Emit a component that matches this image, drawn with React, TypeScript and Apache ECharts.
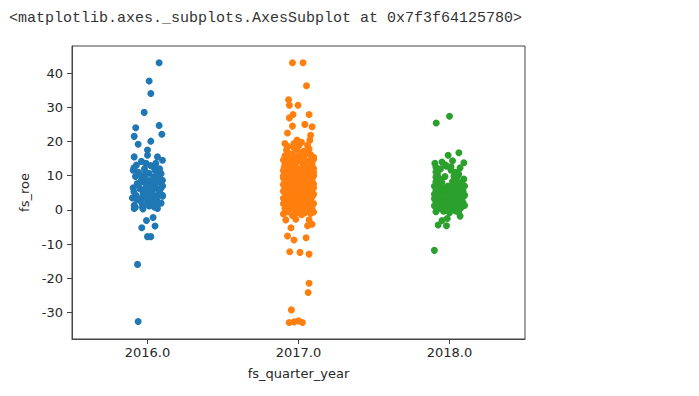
import React, { useEffect, useRef } from "react";
import * as echarts from "echarts";

const header = "<matplotlib.axes._subplots.AxesSubplot at 0x7f3f64125780>";
const categories = ["2016.0", "2017.0", "2018.0"];
const yTicks = [-30, -20, -10, 0, 10, 20, 30, 40];
const xLabel = "fs_quarter_year";
const yLabel = "fs_roe";
const colors = ["#1f77b4", "#ff7f0e", "#2ca02c"];

// [jitter within category, fs_roe]
const roe2016: [number, number][] = [
  [0.077, 43.0], [0.011, 37.7], [0.022, 34.0], [-0.022, 28.5], [0.077, 24.7], [0.095, 22.1],
  [-0.078, 24.0], [-0.088, 21.5], [-0.062, 19.2], [0.022, 20.1], [0.0, 17.5], [0.0, 16.0],
  [-0.088, 15.5], [-0.073, 13.1], [-0.095, 11.6], [0.066, 15.5], [0.099, 14.5], [0.055, 13.6],
  [-0.01, 13.6], [0.01, 10.7], [0.077, 11.2], [0.099, 8.7], [-0.095, 6.5], [-0.068, 7.7],
  [-0.033, 8.3], [0.033, 7.2], [0.088, 6.3], [-0.077, 4.3], [-0.044, 3.3], [0.011, 4.3],
  [0.066, 4.3], [0.099, 4.3], [-0.088, 1.4], [-0.088, 0.4], [-0.033, 0.9], [0.0, 2.9],
  [0.044, 0.9], [0.066, 0.4], [0.037, -2.2], [-0.007, -3.1], [-0.038, -5.2], [0.05, -4.7],
  [0.0, -7.8], [0.022, -7.8], [-0.066, -15.9], [-0.062, -32.6],
  [-0.09, 12.3], [-0.06, 11.0], [-0.02, 12.0], [0.04, 12.5], [0.07, 10.2], [0.09, 8.0],
  [-0.08, 9.8], [-0.05, 6.2], [-0.03, 5.4], [0.0, 6.8], [0.02, 5.9], [0.05, 7.5],
  [0.08, 5.2], [0.1, 7.0], [-0.07, 3.0], [-0.04, 2.2], [-0.01, 3.8], [0.03, 2.6],
  [0.06, 3.1], [0.09, 2.0], [-0.09, 5.3], [-0.02, 9.2], [0.01, 8.6], [0.04, 9.7],
  [0.06, 8.8], [-0.06, 7.2], [0.0, 4.8], [0.03, 4.0], [-0.01, 10.5], [0.05, 11.6],
  [0.02, 13.0], [-0.04, 14.2], [0.07, 6.0], [0.09, 10.6], [-0.08, 0.8], [0.01, 1.2],
  [0.06, 1.5], [-0.03, 0.3], [0.0, 2.0], [0.08, 12.0], [-0.05, 10.4], [0.03, 7.0],
  [0.1, 4.0], [-0.1, 3.5],
  [-0.02, 6.0], [0.02, 8.0], [0.05, 9.0], [-0.04, 8.8], [0.03, 5.2], [0.07, 8.2],
  [-0.01, 7.4], [0.04, 6.4], [0.08, 9.4], [-0.03, 4.4],
];

const roe2017: [number, number][] = [
  [-0.04, 43.0], [0.03, 43.0], [0.053, 36.3], [-0.066, 32.2], [-0.06, 30.6], [-0.003, 30.6],
  [0.07, 27.9], [-0.036, 27.9], [-0.06, 26.9], [0.042, 25.0], [0.09, 24.3], [-0.04, 24.5],
  [-0.073, 22.5], [-0.01, 20.4], [0.08, 21.8], [0.075, 20.4], [-0.09, 19.4], [-0.03, 19.4],
  [0.005, 18.9], [0.07, 17.8], [-0.08, 17.5], [0.03, 17.0], [0.1, 14.8], [-0.05, 15.9],
  [-0.07, 18.5], [0.02, 19.8], [0.06, 18.9], [-0.03, 18.2],
  [-0.084, -2.9], [-0.018, -2.7], [0.07, -2.9], [-0.05, -5.2], [0.06, -4.6], [0.09, -4.2],
  [-0.073, -7.6], [-0.03, -8.8], [0.05, -8.1], [-0.058, -12.2], [0.01, -12.4], [0.07, -12.9],
  [0.07, -21.4], [0.064, -24.1], [-0.047, -29.2], [-0.062, -32.9], [-0.029, -32.7],
  [0.0, -32.4], [0.026, -32.9],
  [-0.1, -1.2], [-0.07, -0.5], [-0.04, -1.6], [-0.01, -0.8], [0.02, -1.4], [0.05, -0.3],
  [0.08, -1.0], [0.1, -0.6], [-0.09, 0.4], [-0.06, 0.9], [-0.03, 0.2], [0.0, 0.7],
  [0.03, 0.1], [0.06, 0.8], [0.09, 0.3], [-0.08, -0.2], [0.04, -0.9], [-0.02, 1.1],
  [-0.1, 1.8], [-0.07, 2.4], [-0.05, 1.3], [-0.02, 2.9], [0.01, 1.6], [0.03, 2.2],
  [0.06, 1.4], [0.08, 2.7], [0.1, 1.9], [-0.09, 2.9], [-0.04, 2.0], [0.0, 2.5],
  [0.05, 2.9], [-0.06, 1.1], [0.02, 1.2], [0.09, 1.2], [-0.03, 2.6], [0.07, 2.1],
  [-0.1, 3.4], [-0.08, 4.1], [-0.05, 3.7], [-0.03, 4.6], [0.0, 3.2], [0.02, 4.0],
  [0.04, 3.5], [0.07, 4.4], [0.09, 3.8], [-0.07, 4.9], [-0.01, 4.3], [0.05, 4.8],
  [0.1, 4.6], [-0.09, 3.0], [0.03, 3.0], [0.08, 3.1], [-0.04, 3.3], [0.01, 4.9],
  [-0.06, 3.6], [0.06, 3.9],
  [-0.1, 5.5], [-0.08, 6.3], [-0.06, 5.2], [-0.03, 6.0], [-0.01, 5.7], [0.02, 6.6],
  [0.04, 5.3], [0.06, 6.2], [0.09, 5.8], [-0.09, 6.9], [-0.05, 6.8], [0.0, 6.4],
  [0.03, 5.1], [0.07, 6.9], [0.1, 6.5], [-0.02, 5.0], [0.05, 5.9], [-0.07, 5.6],
  [0.08, 5.2], [0.01, 5.5],
  [-0.1, 7.4], [-0.07, 8.1], [-0.05, 7.2], [-0.02, 8.6], [0.0, 7.7], [0.03, 8.3],
  [0.05, 7.1], [0.08, 8.0], [0.1, 7.6], [-0.09, 8.8], [-0.04, 7.9], [0.02, 7.3],
  [0.06, 8.8], [-0.06, 8.5], [0.09, 8.6], [-0.01, 8.0], [0.04, 9.0],
  [-0.1, 9.3], [-0.08, 10.2], [-0.05, 9.6], [-0.03, 10.5], [0.0, 9.2], [0.02, 10.0],
  [0.05, 9.8], [0.07, 10.7], [0.1, 9.9], [-0.06, 10.9], [0.01, 10.8], [0.08, 9.4],
  [-0.09, 10.6], [0.04, 10.4],
  [-0.1, 11.5], [-0.07, 12.3], [-0.04, 11.2], [-0.01, 12.0], [0.02, 11.6], [0.05, 12.4],
  [0.08, 11.3], [0.1, 12.1], [-0.08, 12.9], [-0.02, 12.8], [0.03, 12.9], [0.07, 12.7],
  [-0.05, 11.8], [0.0, 11.1],
  [-0.09, 13.4], [-0.06, 14.1], [-0.03, 13.6], [0.0, 14.4], [0.03, 13.2], [0.06, 14.0],
  [0.09, 13.5], [-0.1, 14.6], [0.02, 14.9], [0.05, 13.8], [-0.02, 15.0], [0.08, 14.7],
  [-0.09, 15.8], [-0.04, 16.3], [0.01, 15.9], [0.06, 16.5], [0.1, 15.4], [-0.07, 16.8],
  [0.04, 17.2], [-0.01, 17.6], [0.08, 16.2],
  [-0.085, 0.0], [-0.015, -0.2], [0.035, 0.5], [0.075, -0.3], [-0.055, 2.0], [0.015, 2.3],
  [0.045, 1.8], [-0.085, 3.9], [-0.025, 3.9], [0.035, 4.4], [0.065, 3.4], [-0.045, 5.5],
  [0.015, 6.0], [0.075, 5.6], [-0.085, 7.7], [-0.035, 6.6], [0.045, 6.6], [0.095, 7.0],
  [-0.075, 9.5], [-0.015, 9.8], [0.035, 9.5], [0.065, 8.4], [-0.055, 11.3], [0.015, 11.9],
  [0.065, 11.4], [-0.095, 12.4], [-0.035, 13.1], [0.045, 13.3], [0.085, 12.8], [-0.075, 15.2],
  [-0.005, 15.6], [0.035, 15.4], [0.075, 14.4], [-0.045, 14.7], [0.1, 10.9], [-0.1, 10.0],
];

const roe2018: [number, number][] = [
  [0.0, 27.4], [-0.088, 25.4], [0.062, 16.7], [-0.009, 16.0], [0.095, 13.8], [-0.097, 13.6],
  [-0.05, 14.0], [0.02, 14.4], [0.01, 11.6], [-0.09, 11.1], [0.06, 10.6], [0.095, 9.0],
  [-0.07, 9.2], [0.04, 8.7], [-0.015, -2.5], [-0.05, -3.1], [0.07, -1.8], [-0.075, -4.4],
  [-0.02, -4.6], [-0.1, -11.8],
  [-0.1, 6.9], [-0.07, 7.3], [-0.04, 6.5], [-0.01, 7.0], [0.02, 6.6], [0.05, 7.2],
  [0.08, 6.4], [0.1, 7.0], [-0.09, 5.6], [-0.06, 6.0], [-0.03, 5.2], [0.0, 5.8],
  [0.03, 5.4], [0.06, 6.1], [0.09, 5.5], [-0.1, 4.6], [-0.07, 4.2], [-0.05, 4.9],
  [-0.02, 4.4], [0.01, 4.8], [0.04, 4.1], [0.07, 4.7], [0.1, 4.3], [-0.08, 3.5],
  [-0.05, 3.0], [-0.02, 3.7], [0.01, 3.2], [0.04, 3.6], [0.07, 3.1], [0.09, 3.8],
  [-0.1, 3.3], [-0.09, 2.4], [-0.06, 2.0], [-0.03, 2.6], [0.0, 2.2], [0.03, 1.9],
  [0.06, 2.5], [0.09, 2.1], [-0.1, 1.2], [-0.07, 1.6], [-0.04, 0.9], [-0.01, 1.4],
  [0.02, 1.0], [0.05, 1.5], [0.08, 0.8], [0.1, 1.3], [-0.08, 0.2], [-0.05, 0.5],
  [-0.02, -0.1], [0.01, 0.3], [0.04, -0.3], [0.07, 0.4], [-0.09, -0.5], [0.0, -0.8],
  [0.06, -0.6], [-0.04, -0.4],
  [-0.09, 8.2], [-0.05, 8.0], [0.02, 8.3], [0.08, 8.1], [-0.08, 10.0], [-0.03, 9.8],
  [0.05, 9.5], [0.07, 12.3], [-0.02, 12.8], [0.04, 11.0], [-0.06, 12.0],
  [-0.09, 12.5], [-0.08, 10.8], [-0.09, 9.6], [-0.06, 8.9], [0.03, 9.9], [0.06, 10.3],
  [0.01, 12.6], [-0.03, 13.2],
];

const groups = [roe2016, roe2017, roe2018];

export default function App() {
  const ref = useRef<HTMLDivElement>(null);
  useEffect(() => {
    if (!ref.current) return;
    const chart = echarts.init(ref.current, null, { renderer: "svg" });
    const axisFont = { fontFamily: "DejaVu Sans", fontSize: 13, color: "#262626" };
    chart.setOption({
      animation: false,
      backgroundColor: "#ffffff",
      graphic: [
        {
          type: "text",
          left: 9,
          top: 11,
          style: {
            text: header,
            fontFamily: "Liberation Mono",
            fontSize: 15,
            fill: "#333333",
          },
        },
      ],
      grid: {
        left: 72,
        top: 46,
        width: 453,
        height: 293,
        show: true,
        borderColor: "#444444",
        borderWidth: 1,
      },
      xAxis: {
        type: "value",
        min: -0.5,
        max: 2.5,
        name: xLabel,
        nameLocation: "middle",
        nameGap: 28,
        nameTextStyle: axisFont,
        axisLine: { show: true, onZero: false, lineStyle: { color: "#444444", width: 1 } },
        axisTick: { show: true, customValues: [0, 1, 2], length: 5, lineStyle: { color: "#444444" } },
        axisLabel: {
          customValues: [0, 1, 2],
          formatter: (v: number) => categories[Math.round(v)],
          margin: 7,
          ...axisFont,
        },
        splitLine: { show: false },
      },
      yAxis: {
        type: "value",
        min: -37.7,
        max: 47.9,
        name: yLabel,
        nameLocation: "middle",
        nameGap: 39,
        nameTextStyle: axisFont,
        axisLine: { show: true, onZero: false, lineStyle: { color: "#444444", width: 1 } },
        axisTick: { show: true, customValues: yTicks, length: 5, lineStyle: { color: "#444444" } },
        axisLabel: { customValues: yTicks, margin: 9, ...axisFont },
        splitLine: { show: false },
      },
      series: groups.map((g, i) => ({
        type: "scatter",
        name: categories[i],
        symbol: "circle",
        symbolSize: 7,
        itemStyle: { color: colors[i], opacity: 1 },
        data: g.map(([j, v]) => [i + j, v]),
      })),
    });
    return () => chart.dispose();
  }, []);
  return (
    <div
      ref={ref}
      style={{ position: "absolute", left: 0, top: 0, width: 699, height: 396 }}
    />
  );
}
